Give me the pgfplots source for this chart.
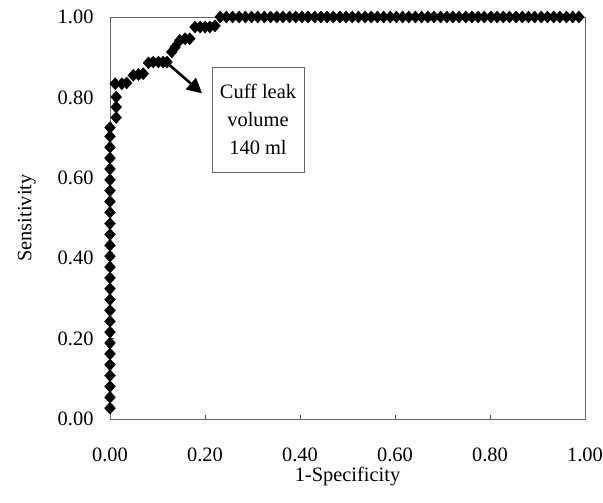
\documentclass[border=0pt]{standalone}
\usepackage{fontspec}
\setmainfont{Liberation Serif}
\usepackage{pgfplots}
\pgfplotsset{compat=1.18}
\usetikzlibrary{arrows.meta}

\begin{document}
\begin{tikzpicture}
\useasboundingbox (-110bp,-84bp) rectangle (493bp,419bp);
\begin{axis}[
  scale only axis, width=475bp, height=402bp,
  xmin=0, xmax=1, ymin=0, ymax=1,
  clip=false,
  xtick={0,0.2,0.4,0.6,0.8,1}, ytick={0,0.2,0.4,0.6,0.8,1},
  tick pos=left, tick align=inside, major tick length=4bp,
  tick style={black!70, line width=0.6bp},
  axis line style={black!60, line width=0.8bp},
  /pgf/number format/.cd, fixed, fixed zerofill, precision=2, assume math mode=true,
  /pgfplots/.cd,
  tick label style={font=\fontsize{20.5}{24}\selectfont},
  xticklabel style={yshift=-25bp},
  yticklabel style={xshift=-13bp},
  xlabel={1-Specificity}, ylabel={Sensitivity},
  label style={font=\fontsize{20.5}{24}\selectfont},
  xlabel style={at={(axis description cs:0.5,-0.143)}, anchor=center},
  ylabel style={at={(axis description cs:-0.175,0.5)}, anchor=center},
]
\addplot[only marks, mark=diamond*, mark size=6bp, mark options={xscale=1.2, fill=black, draw=black}] coordinates {
(0,0.027)(0,0.054)(0,0.081)(0,0.108)(0,0.135)(0,0.162)(0,0.189)(0,0.216)(0,0.243)
(0,0.270)(0,0.297)(0,0.324)(0,0.351)(0,0.378)(0,0.405)(0,0.432)(0,0.459)(0,0.486)
(0,0.514)(0,0.541)(0,0.568)(0,0.595)(0,0.622)(0,0.649)(0,0.676)(0,0.703)(0,0.725)
(0.013,0.750)(0.013,0.776)(0.013,0.801)(0.011,0.834)(0.025,0.834)(0.035,0.836)
(0.049,0.855)(0.060,0.857)(0.070,0.859)
(0.081,0.886)(0.091,0.888)(0.102,0.888)(0.112,0.888)(0.120,0.888)
(0.130,0.913)(0.137,0.925)
(0.147,0.942)(0.158,0.946)(0.168,0.946)
(0.179,0.975)(0.190,0.975)(0.200,0.975)(0.210,0.975)(0.221,0.978)
(0.232,1)(0.245,1)(0.258,1)(0.272,1)(0.285,1)(0.298,1)(0.311,1)(0.325,1)(0.338,1)
(0.351,1)(0.364,1)(0.378,1)(0.391,1)(0.404,1)(0.417,1)(0.431,1)(0.444,1)(0.457,1)
(0.470,1)(0.484,1)(0.497,1)(0.510,1)(0.523,1)(0.537,1)(0.550,1)(0.563,1)(0.576,1)
(0.590,1)(0.603,1)(0.616,1)(0.629,1)(0.643,1)(0.656,1)(0.669,1)(0.682,1)(0.696,1)
(0.709,1)(0.722,1)(0.735,1)(0.749,1)(0.762,1)(0.775,1)(0.788,1)(0.802,1)(0.815,1)
(0.828,1)(0.841,1)(0.855,1)(0.868,1)(0.881,1)(0.894,1)(0.908,1)(0.921,1)(0.934,1)
(0.947,1)(0.961,1)(0.974,1)(0.987,1)
};
% annotation
\draw[-{Triangle[length=15bp,width=15bp]}, line width=2.6bp] (axis cs:0.122,0.884) -- (axis cs:0.194,0.81);
\node[draw=black!60, line width=0.7bp, minimum width=92bp, minimum height=105bp, align=center,
  font=\fontsize{20.5}{28}\selectfont] at (axis cs:0.3116,0.745) {Cuff leak\\volume\\140 ml};
\end{axis}
\end{tikzpicture}
\end{document}
